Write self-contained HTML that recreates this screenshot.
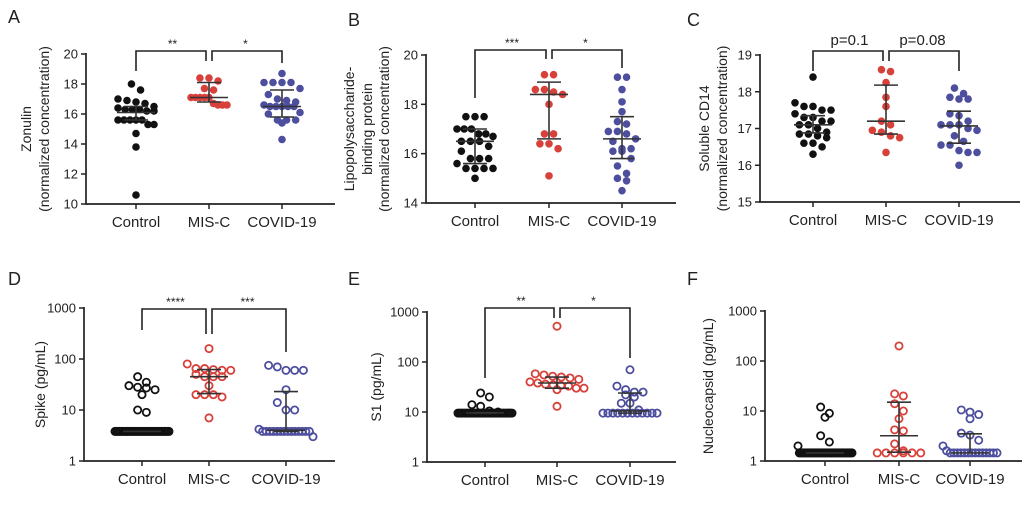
<!DOCTYPE html>
<html><head><meta charset="utf-8">
<style>
html,body{margin:0;padding:0;background:#fff;}
svg{display:block;font-family:"Liberation Sans",Arial,sans-serif;}
</style></head>
<body>
<svg id="fig" width="1024" height="522" viewBox="0 0 1024 522"></svg>
<script>
// ---------- data ----------
const categories = ["Control","MIS-C","COVID-19"];
// Panel A: Zonulin
const zonulinControl = [18.0,17.6,17.0,16.9,16.8,16.7,16.5,16.4,16.3,16.3,16.3,16.2,16.2,15.6,15.6,15.6,15.6,15.6,15.3,15.3,14.7,13.8,10.6];
const zonulinMISC = [18.4,18.4,18.2,17.7,17.6,17.1,17.1,17.1,17.1,17.1,16.7,16.6,16.6,16.6];
const zonulinCOVID = [18.7,18.1,18.1,18.1,18.1,17.7,17.3,17.0,16.9,16.8,16.6,16.5,16.5,16.5,16.5,16.5,16.1,16.0,15.6,15.6,15.6,15.4,14.3];
const zonulinMedian = [16.1,17.1,16.5];
const zonulinQ1 = [15.6,16.8,15.8];
const zonulinQ3 = [16.5,18.1,17.6];
const zonulinTicks = [10,12,14,16,18,20];
// Panel B: LBP
const lbpControl = [17.5,17.5,17.5,17.0,17.0,17.0,16.8,16.8,16.7,16.5,16.5,16.5,16.3,16.1,15.8,15.8,15.8,15.6,15.4,15.4,15.4,15.4,15.0];
const lbpMISC = [19.2,19.2,18.6,18.6,18.5,18.4,18.0,16.8,16.8,16.4,16.4,16.2,15.1];
const lbpCOVID = [19.1,19.1,18.6,18.1,17.7,17.3,17.2,16.9,16.9,16.8,16.6,16.5,16.2,16.2,16.1,16.1,15.8,15.5,15.2,15.0,14.9,14.5];
const lbpMedian = [16.5,18.4,16.6];
const lbpQ1 = [15.6,16.6,15.8];
const lbpQ3 = [17.0,18.9,17.5];
const lbpTicks = [14,16,18,20];
// Panel C: sCD14
const cd14Control = [18.4,17.7,17.6,17.6,17.5,17.5,17.4,17.3,17.3,17.2,17.2,17.1,17.1,17.0,16.9,16.85,16.85,16.8,16.75,16.6,16.6,16.5,16.3];
const cd14MISC = [18.6,18.55,18.25,17.85,17.6,17.2,17.1,16.95,16.9,16.8,16.75,16.35];
const cd14COVID = [18.1,17.95,17.85,17.8,17.8,17.4,17.35,17.2,17.1,17.1,17.1,17.0,16.95,16.8,16.65,16.55,16.55,16.4,16.35,16.35,16.0];
const cd14Median = [17.1,17.2,17.07];
const cd14Q1 = [16.88,16.85,16.6];
const cd14Q3 = [17.35,18.18,17.47];
const cd14Ticks = [15,16,17,18,19];
// Panel D: Spike
const spikeControl = [45,35,30,28,27,25,20,10,9].concat(Array(34).fill(3.8));
const spikeMISC = [160,80,65,65,62,60,60,50,45,45,45,30,20,20,20,18,7];
const spikeCOVID = [75,70,60,60,60,25,14,10,10,4.2].concat(Array(14).fill(3.8)).concat([3.0]);
const spikeMedian = [3.8,45,4.0];
const spikeQ1 = [3.8,21,3.8];
const spikeQ3 = [3.8,62,23];
// Panel E: S1
const s1Control = [24,20,14,13,10.5,10].concat(Array(34).fill(9.5));
const s1MISC = [520,58,55,52,50,48,45,40,38,36,35,34,33,30,30,28,13];
const s1COVID = [70,33,28,25,25,22,20,15,15,11].concat(Array(12).fill(9.5));
const s1Median = [9.6,38,10.5];
const s1Q1 = [9.5,30,9.5];
const s1Q3 = [9.7,50,24];
// Panel F: Nucleocapsid
const ncControl = [12,9,7.5,3.2,2.4,2.0].concat(Array(40).fill(1.45));
const ncMISC = [200,22,20,14,10,7,4.2,4.0,2.2,1.6].concat(Array(6).fill(1.45));
const ncCOVID = [10.5,9.5,8.5,7,3.6,3.3,2.6,2.0,1.6].concat(Array(14).fill(1.45));
const ncMedian = [1.45,3.2,1.45];
const ncQ1 = [1.45,1.5,1.45];
const ncQ3 = [1.45,15,3.5];
const logTicks = [1,10,100,1000];

// ---------- drawing ----------
const NS="http://www.w3.org/2000/svg";
const svg=document.getElementById('fig');
const colors=["#111111","#d8403a","#4d4e9e"];
function mk(tag,attrs,parent){const e=document.createElementNS(NS,tag);for(const k in attrs)e.setAttribute(k,attrs[k]);(parent||svg).appendChild(e);return e;}

function panel(cfg){
  const g=mk('g',{});
  
  
  const yScale = cfg.log
    ? v=>cfg.yTop+(Math.log10(cfg.yMax)-Math.log10(v))/(Math.log10(cfg.yMax)-Math.log10(cfg.yMin))*(cfg.yBot-cfg.yTop)
    : v=>cfg.yTop+(cfg.yMax-v)/(cfg.yMax-cfg.yMin)*(cfg.yBot-cfg.yTop);
  const xScale = i=>cfg.catX[i];
  const L=mk('text',{x:cfg.letterX,y:cfg.letterY,'font-size':18,fill:'#222'},g);L.textContent=cfg.letter;
  
  
  const ax=mk('path',{d:`M${cfg.axX},${cfg.yTop-1}V${cfg.yBot}H${cfg.axEnd}`,stroke:'#222','stroke-width':1.7,fill:'none'},g);
  
  
  cfg.ticks.forEach(t=>{
    const y=yScale(t);
    mk('line',{x1:cfg.axX-5,x2:cfg.axX,y1:y,y2:y,stroke:'#222','stroke-width':1.5},g);
    const tx=mk('text',{x:cfg.axX-8,y:y+4.5,'font-size':13,'text-anchor':'end',fill:'#222'},g);
    tx.textContent=t;
    
    
  });
  categories.forEach((c,i)=>{
    const x=xScale(i);
    mk('line',{x1:x,x2:x,y1:cfg.yBot,y2:cfg.yBot+5,stroke:'#222','stroke-width':1.5},g);
    const t=mk('text',{x:x,y:cfg.yBot+23,'font-size':15,'text-anchor':'middle',fill:'#222'},g);
    t.textContent=c;
    
    
  });
  const cy=(cfg.yTop+cfg.yBot)/2;
  cfg.title.forEach((line,k)=>{
    const t=mk('text',{x:0,y:0,'font-size':14,'text-anchor':'middle',fill:'#222',transform:`translate(${cfg.titleX[k]},${cy}) rotate(-90)`},g);
    t.textContent=line;
    
    
  });
  const r=cfg.open?3.6:3.8;
  cfg.series.forEach((vals,i)=>{
    const cx=xScale(i);
    const pts=vals.map(v=>({v,y:yScale(v)})).sort((a,b)=>a.y-b.y);
    const rows=[];
    pts.forEach(p=>{const last=rows[rows.length-1];if(last&&p.y-last[0].y<r*2.1)last.push(p);else rows.push([p]);});
    rows.forEach(row=>{
      const n=row.length;
      const sp=n>1?Math.min(2*r+1.5,cfg.maxW/(n-1)):0;
      row.forEach((p,k)=>{
        const off=(k-(n-1)/2)*sp;
        const c=mk('circle',{cx:cx+off,cy:p.y,r:r,fill:cfg.open?'none':colors[i],stroke:colors[i],'stroke-width':cfg.open?1.8:0},g);
        
        
      });
    });
    const ym=yScale(cfg.median[i]),y1=yScale(cfg.q1[i]),y3=yScale(cfg.q3[i]);
    const eb=mk('path',{d:`M${cx-19},${ym}H${cx+19}M${cx},${y1}V${y3}M${cx-12},${y1}H${cx+12}M${cx-12},${y3}H${cx+12}`,stroke:'#333','stroke-width':1.6,fill:'none'},g);
    
    
  });
  if(cfg.sig){
    const by=cfg.brY,x0=xScale(0),x1=xScale(1),x2=xScale(2);
    const b1=mk('path',{d:`M${x0},${by+cfg.drop[0]}V${by}H${x1-3}V${by+cfg.drop[1]}`,stroke:'#222','stroke-width':1.6,fill:'none'},g);
    
    
    const b2=mk('path',{d:`M${x1+3},${by+cfg.drop[1]}V${by}H${x2}V${by+cfg.drop[2]}`,stroke:'#222','stroke-width':1.6,fill:'none'},g);
    
    
    [[(x0+x1)/2,cfg.sig[0]],[(x1+x2)/2,cfg.sig[1]]].forEach(([x,s])=>{
      const t=mk('text',{x:x,y:by-(cfg.sigBig?6:3),'font-size':cfg.sigBig?15:12,'text-anchor':'middle',fill:'#222'},g);
      t.textContent=s;
      
      
    });
  }
}

panel({letter:'A',letterX:8,letterY:23,axX:86,axEnd:335,yTop:54,yBot:204,yMin:10,yMax:20,ticks:zonulinTicks,
  catX:[136,209,282],title:['Zonulin','(normalized concentration)'],titleX:[31,49],
  series:[zonulinControl,zonulinMISC,zonulinCOVID],median:zonulinMedian,q1:zonulinQ1,q3:zonulinQ3,maxW:36,
  sig:['**','*'],brY:51,drop:[20,10,12]});
panel({letter:'B',letterX:348,letterY:26,axX:426,axEnd:676,yTop:55,yBot:203,yMin:14,yMax:20,ticks:lbpTicks,
  catX:[475,549,622],title:['Lipopolysaccharide-','binding protein','(normalized concentration)'],titleX:[354,372,389],
  series:[lbpControl,lbpMISC,lbpCOVID],median:lbpMedian,q1:lbpQ1,q3:lbpQ3,maxW:36,
  sig:['***','*'],brY:50,drop:[48,9,18]});
panel({letter:'C',letterX:687,letterY:26,axX:760,axEnd:1020,yTop:55,yBot:202,yMin:15,yMax:19,ticks:cd14Ticks,
  catX:[813,886,959],title:['Soluble  CD14','(normalized concentration)'],titleX:[709,727],
  series:[cd14Control,cd14MISC,cd14COVID],median:cd14Median,q1:cd14Q1,q3:cd14Q3,maxW:36,
  sig:['p=0.1','p=0.08'],sigBig:true,brY:51,drop:[20,10,20]});
panel({letter:'D',letterX:8,letterY:285,axX:84,axEnd:335,yTop:308,yBot:461,yMin:1,yMax:1000,log:true,ticks:logTicks,
  catX:[142,209,286],title:['Spike (pg/mL)'],titleX:[45],open:true,
  series:[spikeControl,spikeMISC,spikeCOVID],median:spikeMedian,q1:spikeQ1,q3:spikeQ3,maxW:54,
  sig:['****','***'],brY:309,drop:[21,25,43]});
panel({letter:'E',letterX:348,letterY:285,axX:427,axEnd:676,yTop:312,yBot:462,yMin:1,yMax:1000,log:true,ticks:logTicks,
  catX:[485,557,630],title:['S1 (pg/mL)'],titleX:[381],open:true,
  series:[s1Control,s1MISC,s1COVID],median:s1Median,q1:s1Q1,q3:s1Q3,maxW:54,
  sig:['**','*'],brY:308,drop:[70,10,50]});
panel({letter:'F',letterX:687,letterY:285,axX:765,axEnd:1022,yTop:311,yBot:461,yMin:1,yMax:1000,log:true,ticks:logTicks,
  catX:[825,899,970],title:['Nucleocapsid (pg/mL)'],titleX:[713],open:true,
  series:[ncControl,ncMISC,ncCOVID],median:ncMedian,q1:ncQ1,q3:ncQ3,maxW:54});
</script>
</body></html>
